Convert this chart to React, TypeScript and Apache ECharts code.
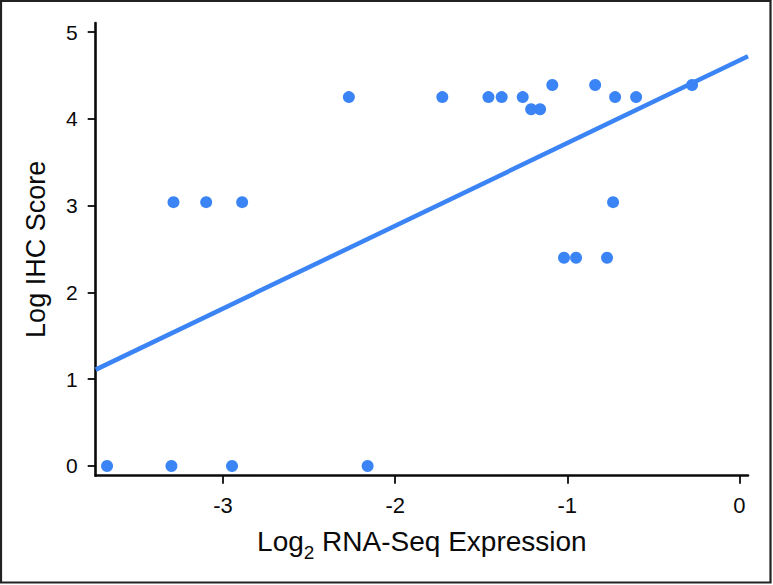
import React, { useEffect, useRef } from "react";
import * as echarts from "echarts";

// Axis ticks
const xTicks = [-3, -2, -1, 0];
const yTicks = [0, 1, 2, 3, 4, 5];

// Scatter points (Log2 RNA-Seq expression, Log IHC score)
const pointX = [
  -3.674, -3.3, -2.948, -2.16,
  -3.288, -3.098, -2.889, -0.734,
  -2.269, -1.726, -1.458, -1.381, -1.259, -0.722, -0.6,
  -1.21, -1.158,
  -1.087, -0.838, -0.275,
  -1.019, -0.949, -0.769,
];
const pointY = [
  0, 0, 0, 0,
  3.04, 3.04, 3.04, 3.04,
  4.25, 4.25, 4.25, 4.25, 4.25, 4.25, 4.25,
  4.11, 4.11,
  4.39, 4.39, 4.39,
  2.4, 2.4, 2.4,
];

// Fitted regression line endpoints
const fitX = [-3.74, 0.05];
const fitY = [1.11, 4.72];

const BLUE = "#3b84f5";
const INK = "#0a0a0a";

export default function App() {
  const ref = useRef<HTMLDivElement>(null);

  useEffect(() => {
    if (!ref.current) return;
    const chart = echarts.init(ref.current, null, { renderer: "svg" });
    const points = pointX.map((x, i) => [x, pointY[i]]);
    const fit = fitX.map((x, i) => [x, fitY[i]]);
    chart.setOption({
      animation: false,
      backgroundColor: "#ffffff",
      grid: {
        left: 95.7,
        right: 25,
        top: 23,
        bottom: 109.3,
        containLabel: false,
        outerBoundsMode: "none",
      },
      xAxis: {
        type: "value",
        min: -3.74,
        max: 0.05,
        splitLine: { show: false },
        axisLine: { show: true, onZero: false, lineStyle: { color: INK, width: 2.6 } },
        axisTick: {
          show: true,
          inside: false,
          length: 8,
          lineStyle: { color: INK, width: 1.8 },
          customValues: xTicks,
        },
        axisLabel: {
          customValues: xTicks,
          margin: 19,
          color: INK,
          fontSize: 22,
          fontFamily: "Liberation Sans Narrow, Liberation Sans, Arial, sans-serif",
        },
        name: "{a|Log}{s|2}{a| RNA-Seq Expression}",
        nameLocation: "middle",
        nameGap: 46,
        nameTextStyle: {
          color: INK,
          rich: {
            a: {
              fontSize: 28,
              lineHeight: 40,
              verticalAlign: "middle",
              color: INK,
              fontFamily: "Liberation Sans, Arial, sans-serif",
            },
            s: {
              fontSize: 19,
              lineHeight: 40,
              verticalAlign: "bottom",
              color: INK,
              fontFamily: "Liberation Sans, Arial, sans-serif",
            },
          },
        },
      },
      yAxis: {
        type: "value",
        min: -0.112,
        max: 5.104,
        splitLine: { show: false },
        axisLine: { show: true, onZero: false, lineStyle: { color: INK, width: 2.6 } },
        axisTick: {
          show: true,
          inside: false,
          length: 8,
          lineStyle: { color: INK, width: 1.8 },
          customValues: yTicks,
        },
        axisLabel: {
          customValues: yTicks,
          margin: 18,
          color: INK,
          fontSize: 21,
          fontFamily: "Liberation Sans, Arial, sans-serif",
        },
        name: "Log IHC Score",
        nameLocation: "middle",
        nameRotate: 90,
        nameGap: 46,
        nameTextStyle: {
          color: INK,
          fontSize: 27,
          fontFamily: "Liberation Sans, Arial, sans-serif",
        },
      },
      graphic: [
        {
          type: "rect",
          shape: { x: 1, y: 1, width: 769.5, height: 581.5 },
          style: { fill: "none", stroke: "#222", lineWidth: 2.2 },
          z: 100,
        },
      ],
      series: [
        {
          type: "line",
          data: fit,
          symbol: "none",
          lineStyle: { color: BLUE, width: 4.5 },
          z: 2,
        },
        {
          type: "scatter",
          data: points,
          symbol: "circle",
          symbolSize: 12,
          itemStyle: { color: BLUE, opacity: 1 },
          z: 3,
        },
      ],
    });
    return () => chart.dispose();
  }, []);

  return (
    <div
      ref={ref}
      style={{ position: "absolute", left: 0, top: 0, width: 773, height: 585 }}
    />
  );
}
